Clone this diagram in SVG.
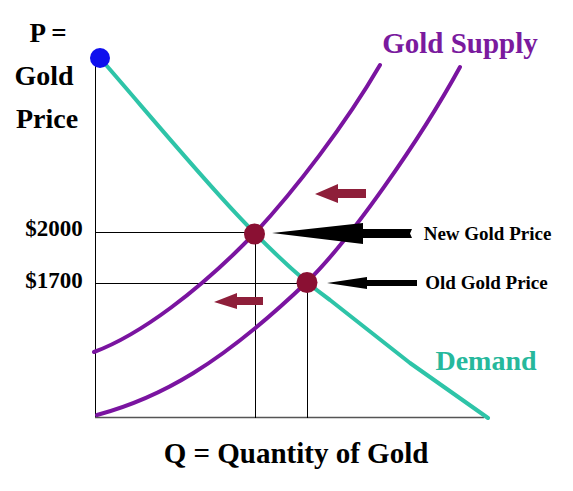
<svg xmlns="http://www.w3.org/2000/svg" width="573" height="491" viewBox="0 0 573 491">
<style>
.t{font-family:"Liberation Serif","Times New Roman",serif;font-weight:bold}
.guide{stroke:#000;stroke-width:1;fill:none}
.sup{stroke:#7a14a0;stroke-width:4;fill:none;stroke-linecap:round}
.dem{stroke:#2ec4a8;stroke-width:4;fill:none;stroke-linecap:round;stroke-linejoin:round}
.eq{fill:#8a1033}
.shift{fill:#8e1f3a}
</style>
<rect width="573" height="491" fill="#fff"/>
<g id="axes">
<line x1="95.5" y1="62" x2="95.5" y2="418" class="guide"/>
<line x1="95" y1="417.5" x2="484" y2="417.5" stroke="#555" stroke-width="1.5"/>
</g>
<g id="connectors">
<line x1="95" y1="232.5" x2="255" y2="232.5" class="guide"/>
<line x1="95" y1="283.5" x2="307" y2="283.5" class="guide"/>
<line x1="255.5" y1="232" x2="255.5" y2="418" class="guide"/>
<line x1="307.5" y1="283" x2="307.5" y2="418" class="guide"/>
</g>
<g id="demand-curve">
<path class="dem" d="M100,58 C180,150 260,250 330,300 L410,363 L488,418"/>
</g>
<g id="supply-new">
<path class="sup" d="M94,352 C140,335 200,290 255,233 C295,190 345,125 380,65"/>
</g>
<g id="supply-old">
<path class="sup" d="M97,415 C160,398 220,365 307,282 C350,240 420,140 460,67"/>
</g>
<g id="start-dot"><circle cx="100" cy="58" r="10" fill="#1010ee"/></g>
<g id="new-eq"><circle cx="254.5" cy="234" r="10.5" class="eq"/></g>
<g id="old-eq"><circle cx="307" cy="282.5" r="10.5" class="eq"/></g>
<g id="arrow-new">
<polygon points="272,233 363,223 363,229 412,229 410,233.5 412,238 363,238 363,244" fill="#000"/>
</g>
<g id="arrow-old">
<polygon points="327,283 367,277 367,280 417,280 417,286 367,286 367,289" fill="#000"/>
</g>
<g id="shift-upper">
<polygon points="315,194 338,184 338,189 366,189 366,198 338,198 338,203" class="shift"/>
</g>
<g id="shift-lower">
<polygon points="214,302 237,293 237,297 263,297 263,305 237,305 237,309" class="shift"/>
</g>
<g id="labels">
<text x="48" y="42" class="t" font-size="27" text-anchor="middle">P =</text>
<text x="44" y="85" class="t" font-size="28" text-anchor="middle">Gold</text>
<text x="47" y="128" class="t" font-size="28" text-anchor="middle">Price</text>
<text x="54" y="236" class="t" font-size="23" text-anchor="middle">$2000</text>
<text x="54" y="288" class="t" font-size="23" text-anchor="middle">$1700</text>
<text x="460" y="53" class="t" font-size="29" text-anchor="middle" fill="#7a1a9e">Gold Supply</text>
<text x="486" y="370" class="t" font-size="28" text-anchor="middle" fill="#26b89c">Demand</text>
<text x="296" y="463" class="t" font-size="29" text-anchor="middle">Q = Quantity of Gold</text>
<text x="487.5" y="240" class="t" font-size="19" text-anchor="middle">New Gold Price</text>
<text x="486.5" y="289" class="t" font-size="19" text-anchor="middle">Old Gold Price</text>
</g>
</svg>
